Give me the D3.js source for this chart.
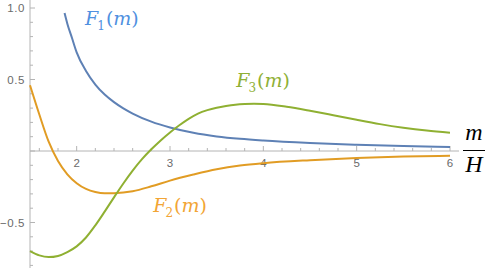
<!DOCTYPE html>
<html><head><meta charset="utf-8">
<script src="https://cdn.jsdelivr.net/npm/d3@7"></script>
<style>body{margin:0;background:#fff}svg{display:block}</style>
</head><body>
<script>
// Data
const m1 = [1.87, 1.9, 1.95, 2.0, 2.1, 2.2, 2.3, 2.4, 2.5, 2.6, 2.8, 3.0, 3.25, 3.5, 3.75, 4.0, 4.5, 5.0, 5.5, 6.0];
const F1 = [0.965, 0.89, 0.79, 0.69, 0.56, 0.465, 0.395, 0.342, 0.298, 0.262, 0.205, 0.164, 0.127, 0.102, 0.085, 0.073, 0.056, 0.044, 0.035, 0.028];

const m2 = [1.5, 1.6, 1.7, 1.8, 1.9, 2.0, 2.1, 2.2, 2.3, 2.4, 2.6, 2.8, 3.0, 3.25, 3.5, 3.75, 4.0, 4.5, 5.0, 5.5, 6.0];
const F2 = [0.46, 0.255, 0.065, -0.07, -0.163, -0.225, -0.265, -0.287, -0.296, -0.295, -0.281, -0.247, -0.207, -0.165, -0.128, -0.102, -0.085, -0.064, -0.049, -0.039, -0.033];

const m3 = [1.5, 1.6, 1.7, 1.8, 1.9, 2.0, 2.1, 2.2, 2.3, 2.4, 2.5, 2.6, 2.7, 2.8, 2.9, 3.0, 3.1, 3.2, 3.3, 3.4, 3.5, 3.6, 3.7, 3.8, 3.9, 4.0, 4.25, 4.5, 4.75, 5.0, 5.25, 5.5, 5.75, 6.0];
const F3 = [-0.70, -0.73, -0.742, -0.734, -0.707, -0.667, -0.605, -0.52, -0.424, -0.324, -0.227, -0.137, -0.057, 0.012, 0.074, 0.13, 0.18, 0.225, 0.262, 0.286, 0.303, 0.315, 0.324, 0.329, 0.331, 0.329, 0.309, 0.281, 0.25, 0.218, 0.188, 0.163, 0.143, 0.128];

const xMajor = [2, 3, 4, 5, 6];
const yMajor = [1.0, 0.5, -0.5];
const yLabels = ["1.0", "0.5", "\u22120.5"];

const W = 491, H = 274;
const x = d3.scaleLinear().domain([1.5, 6]).range([30, 450]);
const y = d3.scaleLinear().domain([0, 1]).range([151, 8]);

const svg = d3.select("body").append("svg").attr("width", W).attr("height", H);

const axisCol = "#b4b4b4", tickTxt = "#6a6a6a";

// x axis
svg.append("line").attr("x1", 30).attr("x2", 459).attr("y1", y(0)).attr("y2", y(0))
  .attr("stroke", axisCol).attr("stroke-width", 1);
const xMinor = d3.range(16, 61, 2).map(d => d / 10);
svg.selectAll(".xt").data(xMinor).enter().append("line")
  .attr("x1", d => x(d)).attr("x2", d => x(d))
  .attr("y1", y(0)).attr("y2", d => y(0) - (Math.abs(d - Math.round(d)) < 1e-6 ? 5 : 3))
  .attr("stroke", axisCol);
svg.selectAll(".xl").data(xMajor).enter().append("text")
  .attr("x", d => x(d)).attr("y", y(0) + 16).attr("text-anchor", "middle")
  .attr("font-family", "Liberation Sans, Arial, sans-serif").attr("font-size", 11.5)
  .attr("fill", tickTxt).text(d => d);

// y axis
svg.append("line").attr("x1", 30).attr("x2", 30).attr("y1", 0).attr("y2", 268)
  .attr("stroke", axisCol);
const yMinor = d3.range(-8, 11, 1).map(d => d / 10);
svg.selectAll(".yt").data(yMinor).enter().append("line")
  .attr("x1", 30).attr("x2", d => 30 + (Math.abs(d * 2 - Math.round(d * 2)) < 1e-6 ? 5 : 3))
  .attr("y1", d => y(d)).attr("y2", d => y(d))
  .attr("stroke", axisCol);
svg.selectAll(".yl").data(yMajor).enter().append("text")
  .attr("x", 25).attr("y", d => y(d) + 4).attr("text-anchor", "end")
  .attr("font-family", "Liberation Sans, Arial, sans-serif").attr("font-size", 11.5)
  .attr("letter-spacing", 0.6)
  .attr("fill", tickTxt).text((d, i) => yLabels[i]);

// curves
const line = d3.line().x(d => x(d[0])).y(d => y(d[1])).curve(d3.curveMonotoneX);
const series = [
  {m: m1, v: F1, c: "#5e81b5"},
  {m: m2, v: F2, c: "#e19c24"},
  {m: m3, v: F3, c: "#8fb032"}
];
series.forEach(s => {
  svg.append("path").datum(s.m.map((d, i) => [d, s.v[i]]))
    .attr("d", line).attr("fill", "none").attr("stroke", s.c).attr("stroke-width", 2);
});

// labels
const labels = [
  {sub: "1", mx: 2.09, vy: 0.88, c: "#4f90e0"},
  {sub: "2", mx: 2.82, vy: -0.427, c: "#f2a535"},
  {sub: "3", mx: 3.71, vy: 0.45, c: "#8fb035"}
];
labels.forEach(l => {
  const t = svg.append("text").attr("x", x(l.mx)).attr("y", y(l.vy))
    .attr("font-family", "DejaVu Serif, Liberation Serif, serif").attr("font-size", 19)
    .attr("fill", l.c);
  t.append("tspan").attr("font-style", "italic").text("F");
  t.append("tspan").attr("font-size", 12).attr("dy", 5).attr("dx", -1).text(l.sub);
  t.append("tspan").attr("dy", -5).attr("dx", 1).text("(");
  t.append("tspan").attr("font-style", "italic").text("m");
  t.append("tspan").text(")");
});

// axis label m/H
const ax = svg.append("g").attr("font-family", "Liberation Serif, Times New Roman, serif")
  .attr("font-size", 24).attr("font-style", "italic").attr("fill", "#000");
ax.append("text").attr("x", 474).attr("y", 140).attr("text-anchor", "middle").text("m");
ax.append("line").attr("x1", 463).attr("x2", 485).attr("y1", 150.5).attr("y2", 150.5)
  .attr("stroke", "#000").attr("stroke-width", 1);
ax.append("text").attr("x", 474).attr("y", 172).attr("text-anchor", "middle").text("H");
</script>
</body></html>
